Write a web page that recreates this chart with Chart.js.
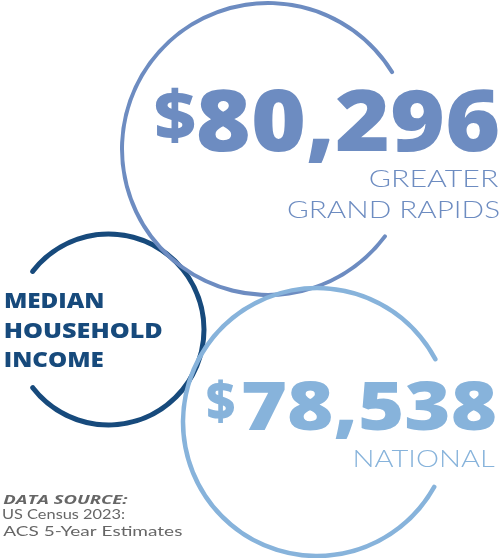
<!DOCTYPE html>
<html>
<head>
<meta charset="utf-8">
<script src="https://cdn.jsdelivr.net/npm/chart.js@4.4.1/dist/chart.umd.min.js"></script>
<style>
  html, body { margin: 0; padding: 0; background: #ffffff; }
  #wrap { position: relative; width: 501px; height: 558px; overflow: hidden; background: #ffffff; }
  #wrap canvas { position: absolute; left: 0; top: 0; }
</style>
</head>
<body>
<div id="wrap">
  <canvas id="ringTitle" width="501" height="558"></canvas>
  <canvas id="ringLocal" width="501" height="558"></canvas>
  <canvas id="ringNational" width="501" height="558"></canvas>
</div>
<script>
// ---- data ----
const categories = ['GREATER GRAND RAPIDS', 'NATIONAL'];
const incomes = [80296, 78538];
const categoryLines = [['GREATER', 'GRAND RAPIDS'], ['NATIONAL']];
const titleLines = ['MEDIAN', 'HOUSEHOLD', 'INCOME'];
const sourceLines = ['DATA SOURCE:', 'US Census 2023:', 'ACS 5-Year Estimates'];

// ---- styles / layout ----
const W = 501, H = 558;
const COLORS = { local: '#6d8cc1', title: '#174a7c', national: '#87b3db', source: '#666666' };
const BOLD = s => `800 ${s}px "Open Sans", "Roboto", sans-serif`;
const LIGHT = s => `300 ${s}px "Lato", "Open Sans", sans-serif`;
const TITLEF = s => `800 ${s}px "Open Sans", "Roboto", sans-serif`;
const SRC_B = s => `italic 700 ${s}px "Open Sans", "Lato", sans-serif`;
const SRC_R = s => `400 ${s}px "Lato", "Open Sans", sans-serif`;

function fitText(ctx, text, box, font, color, mode) {
  const base = 100;
  ctx.font = font(base);
  let m = ctx.measureText(text);
  const inkH = mode === 'ink' ? m.actualBoundingBoxAscent + m.actualBoundingBoxDescent : m.actualBoundingBoxAscent;
  const size = base * (box.b - box.t) / inkH;
  ctx.font = font(size);
  m = ctx.measureText(text);
  const inkW = m.actualBoundingBoxLeft + m.actualBoundingBoxRight;
  const sx = (box.r - box.l) / inkW;
  const baseline = mode === 'ink' ? box.b - m.actualBoundingBoxDescent : box.b;
  ctx.save();
  ctx.fillStyle = color;
  ctx.textAlign = 'left';
  ctx.textBaseline = 'alphabetic';
  ctx.translate(box.l, baseline);
  ctx.scale(sx, 1);
  ctx.fillText(text, m.actualBoundingBoxLeft, 0);
  ctx.restore();
}

const fmt = v => v.toLocaleString('en-US');

const textLayouts = {
  local(ctx) {
    fitText(ctx, '$', { l: 155, t: 88, r: 195, b: 143 }, BOLD, COLORS.local, 'ink');
    fitText(ctx, fmt(incomes[0]), { l: 198, t: 89, r: 498, b: 150.5 }, BOLD, COLORS.local, 'cap');
    fitText(ctx, categoryLines[0][0], { l: 370, t: 170, r: 498.5, b: 186.7 }, LIGHT, COLORS.local, 'cap');
    fitText(ctx, categoryLines[0][1], { l: 288.3, t: 201.7, r: 498.5, b: 218.3 }, LIGHT, COLORS.local, 'cap');
  },
  title(ctx) {
    fitText(ctx, titleLines[0], { l: 5, t: 292.7, r: 103.3, b: 308.3 }, TITLEF, COLORS.title, 'cap');
    fitText(ctx, titleLines[1], { l: 5, t: 322.7, r: 161.7, b: 338.3 }, TITLEF, COLORS.title, 'cap');
    fitText(ctx, titleLines[2], { l: 5, t: 351.7, r: 103.3, b: 366.7 }, TITLEF, COLORS.title, 'cap');
  },
  national(ctx) {
    fitText(ctx, '$', { l: 207, t: 380, r: 235, b: 423 }, BOLD, COLORS.national, 'ink');
    fitText(ctx, fmt(incomes[1]), { l: 243, t: 380.5, r: 495, b: 429.5 }, BOLD, COLORS.national, 'cap');
    fitText(ctx, categoryLines[1][0], { l: 355, t: 450, r: 495, b: 467 }, LIGHT, COLORS.national, 'cap');
    fitText(ctx, sourceLines[0], { l: 3.3, t: 495, r: 128.3, b: 504 }, SRC_B, COLORS.source, 'cap');
    fitText(ctx, sourceLines[1], { l: 3.3, t: 510, r: 125, b: 519.3 }, SRC_R, COLORS.source, 'cap');
    fitText(ctx, sourceLines[2], { l: 3.3, t: 526.7, r: 181.7, b: 536 }, SRC_R, COLORS.source, 'cap');
  }
};

function makeRing(id, label, value, ring, textKey) {
  const outer = ring.r + ring.thick / 2;
  const inner = ring.r - ring.thick / 2;
  const textPlugin = {
    id: 'texts_' + id,
    afterDraw(chart) { textLayouts[textKey](chart.ctx); }
  };
  const chart = new Chart(document.getElementById(id), {
    type: 'doughnut',
    data: {
      labels: [label],
      datasets: [{
        data: [value],
        backgroundColor: ring.color,
        borderWidth: 0,
        borderRadius: ring.thick / 2,
        clip: false
      }]
    },
    options: {
      responsive: false,
      animation: false,
      events: [],
      radius: outer,
      cutout: (inner / outer * 100) + '%',
      rotation: ring.rotation,
      circumference: ring.circumference,
      layout: { padding: 0 },
      plugins: { legend: { display: false }, tooltip: { enabled: false } }
    },
    plugins: [textPlugin]
  });
  const ctrl = chart.getDatasetMeta(0).controller;
  const dx = 2 * (ring.cx - ctrl.offsetX) - W;
  const dy = 2 * (ring.cy - ctrl.offsetY) - H;
  chart.options.layout.padding = {
    left: Math.max(0, dx), right: Math.max(0, -dx),
    top: Math.max(0, dy), bottom: Math.max(0, -dy)
  };
  chart.update('none');
  return chart;
}

makeRing('ringTitle', titleLines.join(' '), 1,
  { cx: 108.5, cy: 329.5, r: 95.5, thick: 5, rotation: -54, circumference: 288, color: COLORS.title }, 'title');
makeRing('ringLocal', categories[0], incomes[0],
  { cx: 268, cy: 149, r: 146, thick: 4, rotation: 126, circumference: 293, color: COLORS.local }, 'local');
makeRing('ringNational', categories[1], incomes[1],
  { cx: 317, cy: 422, r: 134, thick: 4.5, rotation: 118, circumference: 305, color: COLORS.national }, 'national');
</script>
</body>
</html>
